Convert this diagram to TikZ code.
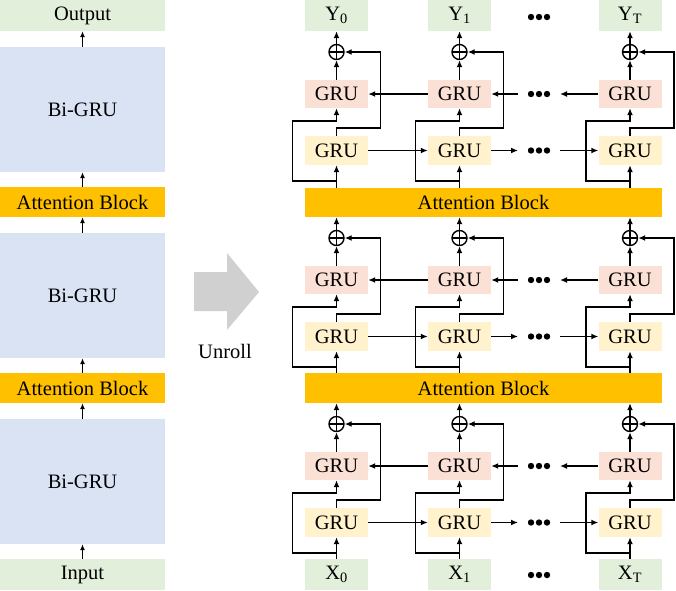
\documentclass[tikz,border=0pt]{standalone}
\usepackage{fontspec}
\setmainfont{Liberation Serif}
\usetikzlibrary{arrows.meta}
\usetikzlibrary{calc}
\usetikzlibrary{positioning}

\definecolor{ioGreen}{HTML}{E2EFDA}
\definecolor{biBlue}{HTML}{DAE3F3}
\definecolor{attOrange}{HTML}{FFC000}
\definecolor{bwdRed}{HTML}{FBE0D6}
\definecolor{fwdYellow}{HTML}{FFF2CC}
\definecolor{unrollGray}{HTML}{D0D0D0}

\tikzset{
  box/.style={inner sep=0pt, minimum width=165pt},
  iobox/.style={box, fill=ioGreen, minimum height=31pt},
  bibox/.style={box, fill=biBlue, minimum height=125pt},
  attbox/.style={box, fill=attOrange, minimum height=30pt},
  grubox/.style={inner sep=0pt, minimum width=63pt, minimum height=29pt},
  bwdbox/.style={grubox, fill=bwdRed, minimum height=28pt},
  fwdbox/.style={grubox, fill=fwdYellow},
  sumnode/.style={circle, draw, line width=1.4pt, minimum size=15pt, inner sep=0pt,
    path picture={\draw[line width=1.4pt] (path picture bounding box.north) -- (path picture bounding box.south)
      (path picture bounding box.west) -- (path picture bounding box.east);}},
  dots/.style={inner sep=0pt, minimum width=22pt, minimum height=7pt, outer sep=10pt,
    path picture={\foreach \d in {-8,0,8}
      \fill ($(path picture bounding box.center)+(\d pt,0)$) circle (3.2pt);}},
  arr/.style={-{Latex[length=7pt,width=6pt]}, line width=1.6pt},
  thinarr/.style={-{Latex[length=6pt,width=5pt]}, line width=1.3pt}
}

\begin{document}
\begin{tikzpicture}[x=1pt, y=-1pt, font=\fontsize{20.5}{24}\selectfont]
\useasboundingbox (0,0) rectangle (676,590);

% folded model
\node[iobox] (out) at (82.5,15.5) {Output};
\node[bibox] (bg1) at (82.5,109.5) {Bi-GRU};
\node[attbox] (att1) at (82.5,202) {Attention Block};
\node[bibox] (bg2) at (82.5,295.5) {Bi-GRU};
\node[attbox] (att2) at (82.5,388) {Attention Block};
\node[bibox] (bg3) at (82.5,481.5) {Bi-GRU};
\node[iobox] (in) at (82.5,574.5) {Input};

\draw[thinarr] (in) -- (bg3);
\draw[thinarr] (bg3) -- (att2);
\draw[thinarr] (att2) -- (bg2);
\draw[thinarr] (bg2) -- (att1);
\draw[thinarr] (att1) -- (bg1);
\draw[thinarr] (bg1) -- (out);

% unroll arrow
\fill[unrollGray] (194,272) -- (227,272) -- (227,253) -- (259,292) -- (227,330) -- (227,311) -- (194,311) -- cycle;
\node (unroll) at (225,351) {Unroll};

% unrolled model
\foreach \c/\cx/\s in {0/336.5/0,1/459.5/1,2/630/T} {
  \node[iobox, minimum width=63pt] (Y\c) at (\cx,15.5) {Y\textsubscript{\s}};
  \node[iobox, minimum width=63pt] (X\c) at (\cx,574.5) {X\textsubscript{\s}};
}
\node[dots] (dY) at (539,17) {};
\node[dots] (dX) at (539,575) {};

\node[attbox, minimum width=357pt, minimum height=29pt] (A1) at (483.5,202.5) {Attention Block};
\node[attbox, minimum width=357pt] (A2) at (483.5,388) {Attention Block};

\foreach \b/\dy/\src/\tgt in {0/0/A1/Y\c, 1/186/A2/A1, 2/372/X\c/A2} {
  \foreach \c/\cx in {0/336.5,1/459.5,2/630} {
    \node[sumnode] (p\b\c) at (\cx,52+\dy) {};
    \node[bwdbox] (r\b\c) at (\cx,94+\dy) {GRU};
    \node[fwdbox] (f\b\c) at (\cx,150.5+\dy) {GRU};
    \draw[arr] (f\b\c.south |- \src.north) -- (f\b\c.south);
    \draw[arr] ($(f\b\c.south)+(0,16)$) -| ++(-44,-60) -| (r\b\c.south);
    \draw[arr] (f\b\c.north) -- ++(0,-8) -| ($(p\b\c)+(44,0)$) -- (p\b\c.east);
    \draw[arr] (r\b\c.north) -- (p\b\c.south);
    \draw[arr] (p\b\c.north) -- (p\b\c.north |- \tgt.south);
  }
  \node[dots] (df\b) at (539,150.5+\dy) {};
  \node[dots] (dr\b) at (539,94+\dy) {};
  \draw[arr] (f\b0.east) -- (f\b1.west);
  \draw[arr] (f\b1.east) -- (df\b.west);
  \draw[arr] (df\b.east) -- (f\b2.west);
  \draw[arr] (r\b2.west) -- (dr\b.east);
  \draw[arr] (dr\b.west) -- (r\b1.east);
  \draw[arr] (r\b1.west) -- (r\b0.east);
}

\end{tikzpicture}
\end{document}
